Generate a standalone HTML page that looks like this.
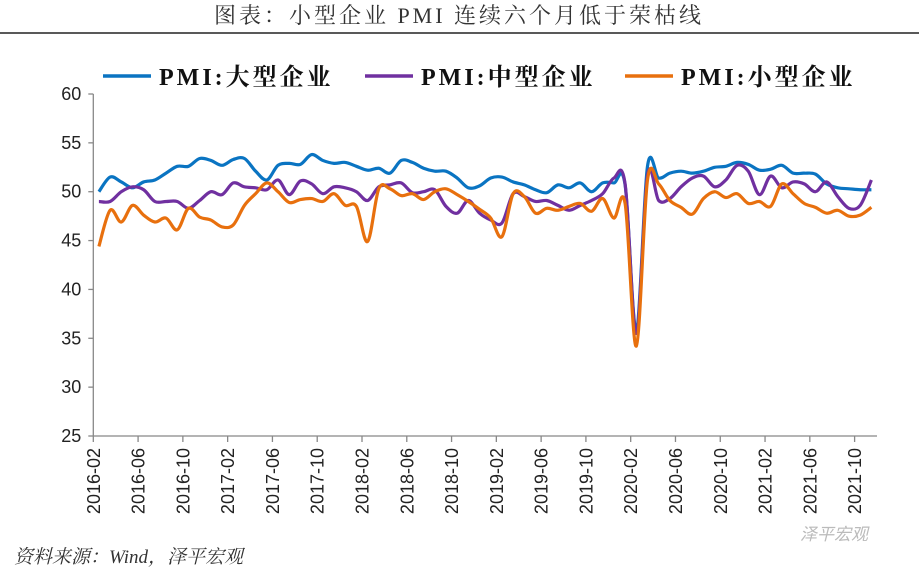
<!DOCTYPE html>
<html><head><meta charset="utf-8"><style>
body{margin:0;background:#fff;width:919px;height:573px;overflow:hidden;font-family:"Liberation Serif","Noto Serif CJK SC",serif}
</style></head><body>
<svg width="919" height="573" id="chart">
<text x="459" y="23" text-anchor="middle" font-size="22" letter-spacing="3" fill="#333" font-family="'Liberation Serif','Noto Serif CJK SC',serif">图表：小型企业 PMI 连续六个月低于荣枯线</text>
<line x1="0" y1="33" x2="919" y2="33" stroke="#222" stroke-width="1.5"/>
<g id="legend"></g>
<g id="axes"></g>
<g id="series"></g>
<text x="14" y="563" font-size="19" font-style="italic" fill="#333" font-family="'Liberation Serif','Noto Serif CJK SC',serif">资料来源：Wind，泽平宏观</text>
<text x="800" y="540" font-size="17" font-style="italic" fill="#bbb" font-family="'Liberation Sans','Noto Sans CJK SC',sans-serif">泽平宏观</text>
</svg>
<script>
const seriesNames=["PMI:大型企业","PMI:中型企业","PMI:小型企业"];
const colors=["#0a74c2","#7030a0","#e8700e"];
const yTicks=[25,30,35,40,45,50,55,60];
const large=[50.0,51.5,51.0,50.4,51.0,51.2,51.9,52.6,52.6,53.4,53.2,52.7,53.3,53.4,52.1,51.2,52.7,52.9,52.8,53.8,53.2,52.9,53.0,52.6,52.2,52.4,51.9,53.2,53.0,52.4,52.1,52.1,51.4,50.4,50.6,51.4,51.5,51.0,50.7,50.2,49.9,50.7,50.4,50.9,50.0,50.9,50.9,50.7,35.8,52.6,51.4,51.9,52.1,51.9,52.1,52.5,52.6,53.0,52.8,52.2,52.3,52.7,51.9,51.9,51.8,50.8,50.4,50.3,50.2,50.2];
const medium=[49.0,49.0,50.0,50.5,50.2,49.0,49.0,49.0,48.3,49.1,50.0,49.7,50.9,50.5,50.4,50.2,51.2,49.7,51.1,50.8,49.8,50.5,50.4,50.0,49.1,50.5,50.7,50.9,49.9,50.0,50.2,48.5,47.8,49.1,47.8,47.1,46.8,49.8,49.5,49.0,49.1,48.6,48.1,48.6,49.1,49.8,51.4,50.8,35.5,51.7,49.1,49.3,50.5,51.4,51.6,50.5,51.2,52.7,52.1,49.7,51.6,50.4,51.0,50.8,50.0,51.0,49.5,48.3,48.6,51.2];
const small=[44.4,48.1,46.9,48.6,47.6,46.9,47.3,46.1,48.3,47.4,47.1,46.4,46.6,48.6,49.8,50.9,50.0,48.9,49.2,49.3,49.0,49.8,48.6,48.5,44.9,50.3,50.3,49.6,49.8,49.2,50.0,50.3,49.7,49.0,48.2,47.3,45.4,49.8,49.5,47.8,48.3,48.1,48.5,48.8,48.0,49.3,47.3,48.8,34.2,51.2,50.8,49.1,48.4,47.7,49.3,50.0,49.4,49.8,48.8,49.0,48.5,50.8,49.8,48.8,48.4,47.8,48.1,47.5,47.6,48.4];
const allSeries=[large,medium,small];
const NS="http://www.w3.org/2000/svg";
const X0=93.3,X1=877,Y0=436,Y1=94,N=large.length;
const step=(X1-X0)/N;
function xs(i){return X0+step*(i+0.5);}
function ys(v){return Y0-(v-25)/(60-25)*(Y0-Y1);}
function mk(t,a,p){const e=document.createElementNS(NS,t);for(const k in a)e.setAttribute(k,a[k]);p.appendChild(e);return e;}
function label(y,m){return y+"-"+(m<10?"0":"")+m;}
const axes=document.getElementById('axes');
let yl=mk('line',{x1:X0,y1:Y1,x2:X0,y2:Y0,stroke:'#888','stroke-width':1.3},axes);


yTicks.forEach(v=>{
  const y=ys(v);
  mk('line',{x1:X0-5,y1:y,x2:X0,y2:y,stroke:'#888','stroke-width':1.3},axes);
  const t=mk('text',{x:X0-12,y:y+6,'text-anchor':'end','font-size':18,fill:'#222','font-family':'Liberation Sans, sans-serif'},axes);
  t.textContent=v;
  
  
});
let xl=mk('line',{x1:X0,y1:Y0,x2:X1,y2:Y0,stroke:'#888','stroke-width':1.3},axes);


for(let i=0;i<N;i+=4){
  const yr=2016+Math.floor((1+i)/12), m=((1+i)%12)+1;
  const x=X0+step*i;
  mk('line',{x1:x,y1:Y0,x2:x,y2:Y0+6,stroke:'#888','stroke-width':1.3},axes);
  const t=mk('text',{x:0,y:0,transform:`translate(${x+6.5},${Y0+12}) rotate(-90)`,'text-anchor':'end','font-size':18,fill:'#222','font-family':'Liberation Sans, sans-serif'},axes);
  t.textContent=label(yr,m);
  
  
}
function spline(pts){
  let d=`M${pts[0][0]},${pts[0][1]}`;
  for(let i=0;i<pts.length-1;i++){
    const p0=pts[Math.max(i-1,0)],p1=pts[i],p2=pts[i+1],p3=pts[Math.min(i+2,pts.length-1)];
    const c1=[p1[0]+(p2[0]-p0[0])/6,p1[1]+(p2[1]-p0[1])/6];
    const c2=[p2[0]-(p3[0]-p1[0])/6,p2[1]-(p3[1]-p1[1])/6];
    d+=` C${c1[0]},${c1[1]} ${c2[0]},${c2[1]} ${p2[0]},${p2[1]}`;
  }
  return d;
}
const sg=document.getElementById('series');
const lineNames=['line-large','line-medium','line-small'];
allSeries.forEach((s,k)=>{
  const p=mk('path',{d:spline(s.map((v,i)=>[xs(i),ys(v)])),fill:'none',stroke:colors[k],'stroke-width':3.2,'stroke-linejoin':'round'},sg);
  
  
});
const lg=document.getElementById('legend');
const lx=[103,365,625];
seriesNames.forEach((n,k)=>{
  mk('line',{x1:lx[k],y1:76,x2:lx[k]+48,y2:76,stroke:colors[k],'stroke-width':3.5},lg);
  const t=mk('text',{x:lx[k]+56,y:85,'font-size':24,'letter-spacing':3,'font-weight':'bold',fill:'#111','font-family':"'Liberation Serif','Noto Serif CJK SC',serif"},lg);
  t.textContent=n;
  
  
});
</script>
</body></html>
